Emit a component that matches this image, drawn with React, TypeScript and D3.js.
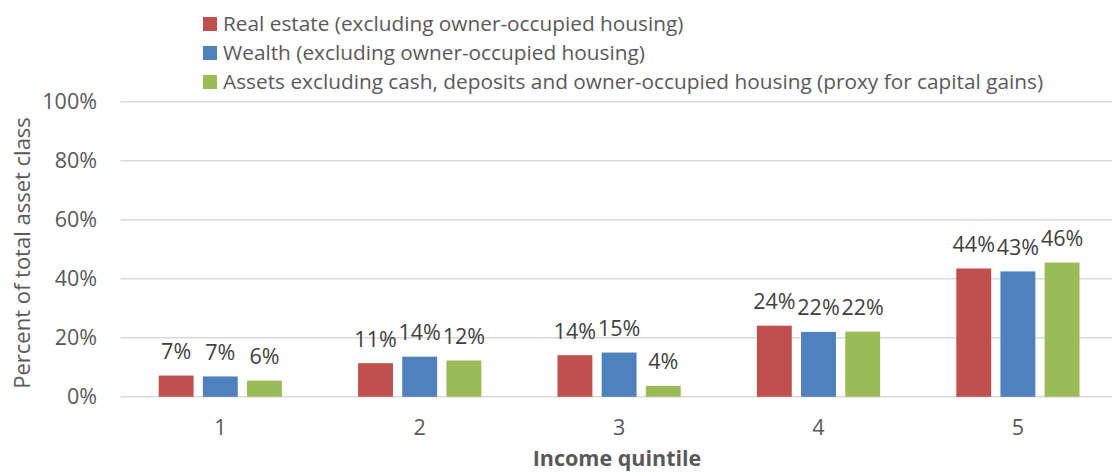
import React from "react";
import * as d3 from "d3";

const categories = ["1", "2", "3", "4", "5"];
const seriesNames = [
  "Real estate (excluding owner-occupied housing)",
  "Wealth (excluding owner-occupied housing)",
  "Assets excluding cash, deposits and owner-occupied housing (proxy for capital gains)",
];
const realEstate = [7.2, 11.4, 14.1, 24.1, 43.5];
const wealth = [6.9, 13.6, 15.0, 22.0, 42.5];
const assets = [5.5, 12.3, 3.7, 22.1, 45.5];
const yTicks = [0, 20, 40, 60, 80, 100];
const colors = ["#C0504D", "#4F81BD", "#9BBB59"];

const W = 1112;
const H = 473;
const FONT = "'Open Sans', 'Noto Sans', sans-serif";
const FS = 21.5;

export default function App() {
  const series = [realEstate, wealth, assets];
  const y = d3.scaleLinear().domain([0, 100]).range([396.8, 101.8]);
  const x = d3
    .scaleBand<string>()
    .domain(categories)
    .range([120.6, 1117.6])
    .paddingInner(0.382)
    .paddingOuter(0.191);
  const xs = d3
    .scaleBand<number>()
    .domain([0, 1, 2])
    .range([0, x.bandwidth()])
    .paddingInner(0.21)
    .paddingOuter(0);

  return (
    <svg
      width={W}
      height={H}
      style={{ position: "absolute", left: 0, top: 0, background: "#fff" }}
      fontFamily={FONT}
    >
      {yTicks.map((t) => (
        <g key={t}>
          <line x1={120.6} x2={W} y1={y(t)} y2={y(t)} stroke="#D9D9D9" strokeWidth={1.5} />
          <text x={97} y={y(t)} dy="0.35em" textAnchor="end" fontSize={FS} fill="#595959">
            {t}%
          </text>
        </g>
      ))}
      {categories.map((c, ci) => (
        <g key={c}>
          {series.map((s, si) => {
            const bx = (x(c) as number) + (xs(si) as number);
            const bw = xs.bandwidth();
            const top = y(s[ci]);
            return (
              <g key={si}>
                <rect x={bx} y={top} width={bw} height={y(0) - top} fill={colors[si]} />
                <text
                  x={bx + bw / 2}
                  y={top - 24}
                  dy="0.35em"
                  textAnchor="middle"
                  fontSize={FS}
                  fill="#404040"
                >
                  {Math.round(s[ci])}%
                </text>
              </g>
            );
          })}
          <text
            x={(x(c) as number) + x.bandwidth() / 2}
            y={427}
            dy="0.35em"
            textAnchor="middle"
            fontSize={FS}
            fill="#595959"
          >
            {c}
          </text>
        </g>
      ))}
      <text
        x={617}
        y={458}
        dy="0.35em"
        textAnchor="middle"
        fontSize={FS}
        fontWeight="bold"
        fill="#595959"
      >
        Income quintile
      </text>
      <text
        transform="translate(22,253) rotate(-90)"
        dy="0.35em"
        textAnchor="middle"
        fontSize={22}
        fill="#595959"
      >
        Percent of total asset class
      </text>
      {seriesNames.map((n, i) => (
        <g key={n}>
          <rect x={203} y={17 + i * 29} width={14} height={14} fill={colors[i]} />
          <text x={223} y={24 + i * 29} dy="0.35em" fontSize={20.8} fill="#595959">
            {n}
          </text>
        </g>
      ))}
    </svg>
  );
}
